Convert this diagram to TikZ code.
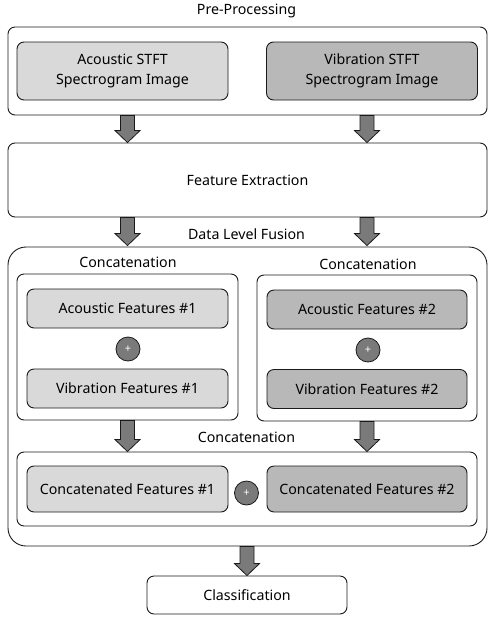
\documentclass[tikz,border=0pt]{standalone}
\usepackage{fontspec}
\setmainfont{Noto Sans}
\usetikzlibrary{calc}
\definecolor{lightg}{HTML}{D9D9D9}
\definecolor{darkg}{HTML}{B8B8B8}
\definecolor{arrg}{HTML}{7A7A7A}
\definecolor{edge}{HTML}{1A1A1A}
\tikzset{
  box/.style={draw=edge, line width=0.9pt, rounded corners=7pt, inner sep=0pt, align=center, font=\fontsize{14.2}{20}\selectfont, text=black},
  lbox/.style={box, fill=lightg},
  dbox/.style={box, fill=darkg},
  wbox/.style={box, fill=white},
  plusc/.style={circle, draw=edge, line width=0.8pt, fill=arrg, minimum size=24pt, inner sep=0pt, text=white, font=\fontsize{11}{11}\selectfont\bfseries},
  lbl/.style={font=\fontsize{14.2}{16}\selectfont, inner sep=0pt, text=black},
  fat/.style={draw=edge, line width=0.8pt, fill=arrg, line join=miter}
}
\newcommand\fatarr[2]{%
  \path[fat] ($(#1)+(-7,0)$) -- ($(#2)+(-7,-12)$) -- ($(#2)+(-12.5,-12)$) -- (#2) -- ($(#2)+(12.5,-12)$) -- ($(#2)+(7,-12)$) -- ($(#1)+(7,0)$) -- cycle;}
\begin{document}
\begin{tikzpicture}[x=1pt,y=-1pt]
\useasboundingbox (0,0) rectangle (493,619);
% pre-processing
\node[lbl] (tpre) at (246.5,11) {Pre-Processing};
\node[wbox, minimum width=479pt, minimum height=88pt] (pre) at (247.5,71) {};
\node[lbox, minimum width=211pt, minimum height=58pt] (ac) at (122.5,71) {Acoustic STFT\\Spectrogram Image};
\node[dbox, minimum width=211pt, minimum height=58pt] (vi) at (372,71) {Vibration STFT\\Spectrogram Image};
% feature extraction
\node[wbox, minimum width=479pt, minimum height=74pt] (fe) at (247.5,180) {Feature Extraction};
% data level fusion
\node[lbl] (tdlf) at (246.5,234) {Data Level Fusion};
\node[draw=edge, line width=0.9pt, rounded corners=18pt, minimum width=479pt, minimum height=299pt, inner sep=0pt] (dlf) at (247.5,396.5) {};
% left concatenation
\node[lbl] (tcl) at (128,262) {Concatenation};
\node[wbox, minimum width=221pt, minimum height=146pt] (cl) at (127.5,347) {};
\node[lbox, minimum width=201pt, minimum height=39pt] (af1) at (127.5,308.5) {Acoustic Features \#1};
\node[plusc] (p1) at (128,349) {+};
\node[lbox, minimum width=201pt, minimum height=39pt] (vf1) at (127.5,388.5) {Vibration Features \#1};
% right concatenation
\node[lbl] (tcr) at (368,264) {Concatenation};
\node[wbox, minimum width=220pt, minimum height=146pt] (cr) at (367,348) {};
\node[dbox, minimum width=200pt, minimum height=39pt] (af2) at (367,309.5) {Acoustic Features \#2};
\node[plusc] (p2) at (368,350) {+};
\node[dbox, minimum width=200pt, minimum height=39pt] (vf2) at (367,389) {Vibration Features \#2};
% bottom concatenation
\node[lbl] (tcb) at (246.5,437) {Concatenation};
\node[wbox, minimum width=460pt, minimum height=74pt] (cb) at (247,489) {};
\node[lbox, minimum width=201pt, minimum height=46pt] (cf1) at (127.5,489) {Concatenated Features \#1};
\node[plusc] (p3) at (246.5,493) {+};
\node[dbox, minimum width=200pt, minimum height=46pt] (cf2) at (367,489) {Concatenated Features \#2};
% classification
\node[wbox, minimum width=200pt, minimum height=38pt] (cls) at (247,595) {Classification};
% arrows
\coordinate (a1s) at (pre.south -| cl.north);
\coordinate (a1e) at (fe.north -| cl.north);
\coordinate (a2s) at (pre.south -| cr.north);
\coordinate (a2e) at (fe.north -| cr.north);
\fatarr{a1s}{a1e}
\fatarr{a2s}{a2e}
\coordinate (b1s) at (fe.south -| cl.north);
\coordinate (b1e) at ($(dlf.north -| cl.north)+(0,-1)$);
\coordinate (b2s) at (fe.south -| cr.north);
\coordinate (b2e) at ($(dlf.north -| cr.north)+(0,-1)$);
\fatarr{b1s}{b1e}
\fatarr{b2s}{b2e}
\coordinate (c1s) at (cl.south);
\coordinate (c1e) at (cb.north -| cl.south);
\coordinate (c2s) at (cr.south);
\coordinate (c2e) at (cb.north -| cr.south);
\fatarr{c1s}{c1e}
\fatarr{c2s}{c2e}
\coordinate (ds) at (dlf.south -| cls.north);
\coordinate (de) at (cls.north);
\fatarr{ds}{de}
\end{tikzpicture}
\end{document}
